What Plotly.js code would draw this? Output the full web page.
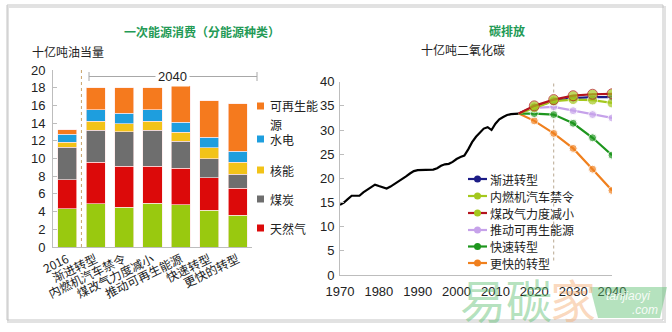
<!DOCTYPE html>
<html><head><meta charset="utf-8">
<script src="https://cdn.plot.ly/plotly-3.0.1.min.js"></script>
<style>html,body{margin:0;padding:0;background:#fff}#chart{width:672px;height:332px}</style>
</head><body><div id="chart"></div>
<script>
// ---------- Left chart data (billion toe) ----------
const categories = ['2016','渐进转型','内燃机汽车禁令','煤改气力度减小','推动可再生能源','快速转型','更快的转型'];
const oil      = [4.3, 4.9, 4.5, 4.95, 4.8, 4.15, 3.6];
const gas      = [3.3, 4.7, 4.6, 4.15, 4.1, 3.65, 3.05];
const coal     = [3.7, 3.6, 3.9, 4.1, 3.05, 2.2, 1.55];
const nuclear  = [0.55, 1.0, 0.9, 1.0, 1.0, 1.2, 1.35];
const hydro    = [0.9, 1.3, 1.2, 1.3, 1.15, 1.2, 1.25];
const renew    = [0.5, 2.5, 2.9, 2.5, 4.1, 4.15, 5.4];
const energyNames = ['石油','天然气','煤炭','核能','水电','可再生能源'];
const energyColors = ['#99c90f','#dc0a0a','#6e6e6e','#f2c318','#1e9ede','#f57a1e'];
const leftTicks = [0,2,4,6,8,10,12,14,16,18,20];
const bracketLabel = '2040';

// ---------- Right chart data (billion t CO2) ----------
const histYears = [1970,1971,1972,1973,1974,1975,1976,1977,1978,1979,1980,1981,1982,1983,1984,1985,1986,1987,1988,1989,1990,1991,1992,1993,1994,1995,1996,1997,1998,1999,2000,2001,2002,2003,2004,2005,2006,2007,2008,2009,2010,2011,2012,2013,2014,2015,2016];
const histCO2   = [14.5,15.0,15.7,16.4,16.4,16.4,17.1,17.6,18.1,18.7,18.4,18.1,17.9,18.3,18.8,19.4,19.8,20.4,21.0,21.5,21.7,21.7,21.7,21.7,21.8,22.1,22.6,22.9,23.0,23.4,24.0,24.4,24.7,26.0,27.5,28.6,29.4,30.3,30.6,30.0,31.3,32.2,32.7,33.1,33.3,33.3,33.4];
const scenYears = [2016,2020,2025,2030,2035,2040];
const scenNames = ['渐进转型','内燃机汽车禁令','煤改气力度减小','推动可再生能源','快速转型','更快的转型'];
const scenEvolving = [33.4,34.8,36.0,36.6,36.8,36.8];
const scenICEBan   = [33.4,34.6,36.0,36.3,36.2,35.6];
const scenLessGas  = [33.4,35.0,36.3,37.1,37.4,37.5];
const scenRenew    = [33.4,34.6,34.8,34.0,33.2,32.5];
const scenRapid    = [33.4,33.4,33.2,31.4,28.4,24.8];
const scenFaster   = [33.4,31.9,29.3,26.2,21.9,17.5];
const scenLineColors   = ['#1c1c86','#a4c81e','#b4141e','#c6a2ea','#1e961e','#f0801e'];
const scenMarkerColors = ['#1c1c86','#a4c81e','#a4c81e','#c6a2ea','#1e961e','#f0801e'];
const rightYTicks = [0,5,10,15,20,25,30,35,40];
const rightXTicks = [1970,1980,1990,2000,2010,2020,2030,2040];
const splitYear = 2025;

// ---------- helpers ----------
const W = 672, H = 332;
const px = x => x / W;
const py = y => 1 - y / H;
const CJK = '"Noto Sans CJK SC", "Noto Sans", sans-serif';
const NUM = '"Liberation Sans", Arial, sans-serif';

const traces = [];
const energyData = [oil, gas, coal, nuclear, hydro, renew];
energyData.forEach((vals, i) => {
  traces.push({
    type: 'bar', x: categories, y: vals, name: energyNames[i],
    xaxis: 'x', yaxis: 'y', showlegend: false,
    marker: {color: energyColors[i], line: {color: 'rgba(255,230,230,0.8)', width: 0.8}},
    hoverinfo: 'skip'
  });
});

traces.push({
  type: 'scatter', mode: 'lines', x: histYears, y: histCO2, xaxis: 'x2', yaxis: 'y2',
  line: {color: '#000', width: 2.2}, showlegend: false, hoverinfo: 'skip'
});
const scenData = [scenEvolving, scenICEBan, scenLessGas, scenRenew, scenRapid, scenFaster];
const drawOrder = [5, 4, 3, 0, 1, 2];
const mSize = [0, 8, 8, 8, 8, 8];
drawOrder.forEach(i => {
  const big = (i === 1 || i === 2);
  traces.push({
    type: 'scatter', mode: 'lines+markers', x: scenYears, y: scenData[i], name: scenNames[i],
    xaxis: 'x2', yaxis: 'y2', showlegend: false, hoverinfo: 'skip',
    line: {color: scenLineColors[i], width: 2.2},
    marker: {color: scenMarkerColors[i], size: mSize.map(s => s ? (big ? 10 : 8) : 0)}
  });
});

const shapes = [];
const annotations = [];

// frame
shapes.push({type: 'rect', xref: 'paper', yref: 'paper', x0: px(8), x1: px(665), y0: py(322), y1: py(7),
  line: {color: '#e2e2e2', width: 2}, layer: 'below'});
shapes.push({type: 'rect', xref: 'paper', yref: 'paper', x0: px(7), x1: px(663), y0: py(320), y1: py(5),
  line: {color: '#c4c4c4', width: 1}, layer: 'below'});

// left chart: dashed separator between 2016 and scenarios
shapes.push({type: 'line', xref: 'x', yref: 'y', x0: 0.5, x1: 0.5, y0: 0, y1: 20.3,
  line: {color: '#c9a46a', width: 1, dash: 'dot'}});
// bracket for 2040
const by = py(76.5);
shapes.push({type: 'line', xref: 'paper', yref: 'paper', x0: px(89), x1: px(257), y0: by, y1: by, line: {color: '#a8a8a8', width: 1}});
shapes.push({type: 'line', xref: 'paper', yref: 'paper', x0: px(89), x1: px(89), y0: py(72), y1: py(81), line: {color: '#a8a8a8', width: 1}});
shapes.push({type: 'line', xref: 'paper', yref: 'paper', x0: px(257), x1: px(257), y0: py(72), y1: py(81), line: {color: '#a8a8a8', width: 1}});
annotations.push({xref: 'paper', yref: 'paper', x: px(172), y: by, text: bracketLabel, showarrow: false,
  font: {family: NUM, size: 13, color: '#222'}, bgcolor: '#fff', borderpad: 2, xanchor: 'center', yanchor: 'middle'});

// right chart: dashed line at split year
shapes.push({type: 'line', xref: 'x2', yref: 'y2', x0: splitYear, x1: splitYear, y0: 3, y1: 42,
  line: {color: '#b8a890', width: 1, dash: 'dot'}, layer: 'below'});

// titles
annotations.push({xref: 'paper', yref: 'paper', x: px(202), y: py(31), text: '<b>一次能源消费（分能源种类）</b>', showarrow: false,
  font: {family: CJK, size: 12, color: '#239a55'}, xanchor: 'center', yanchor: 'middle'});
annotations.push({xref: 'paper', yref: 'paper', x: px(507), y: py(30), text: '<b>碳排放</b>', showarrow: false,
  font: {family: CJK, size: 12, color: '#239a55'}, xanchor: 'center', yanchor: 'middle'});
annotations.push({xref: 'paper', yref: 'paper', x: px(30), y: py(51), text: '十亿吨油当量', showarrow: false,
  font: {family: CJK, size: 12, color: '#222'}, xanchor: 'left', yanchor: 'middle'});
annotations.push({xref: 'paper', yref: 'paper', x: px(463), y: py(50), text: '十亿吨二氧化碳', showarrow: false,
  font: {family: CJK, size: 12, color: '#222'}, xanchor: 'center', yanchor: 'middle'});

// left legend (custom)
const leftLegend = [
  {label: '可再生能', idx: 5, y: 106},
  {label: '水电', idx: 4, y: 139},
  {label: '核能', idx: 3, y: 170},
  {label: '煤炭', idx: 2, y: 199},
  {label: '天然气', idx: 1, y: 228}
];
leftLegend.forEach(it => {
  shapes.push({type: 'rect', xref: 'paper', yref: 'paper', x0: px(257), x1: px(264), y0: py(it.y + 3.5), y1: py(it.y - 3.5),
    fillcolor: energyColors[it.idx], line: {width: 0}});
  annotations.push({xref: 'paper', yref: 'paper', x: px(268), y: py(it.y), text: it.label, showarrow: false,
    font: {family: CJK, size: 12, color: '#222'}, xanchor: 'left', yanchor: 'middle'});
});
annotations.push({xref: 'paper', yref: 'paper', x: px(268), y: py(124), text: '源', showarrow: false,
  font: {family: CJK, size: 12, color: '#222'}, xanchor: 'left', yanchor: 'middle'});

// right legend (custom)
const legY = [179, 196, 213, 230, 246.5, 263];
scenNames.forEach((nm, i) => {
  const yy = py(legY[i]);
  shapes.push({type: 'line', xref: 'paper', yref: 'paper', x0: px(468), x1: px(487), y0: yy, y1: yy,
    line: {color: scenLineColors[i], width: 2.2}});
  shapes.push({type: 'circle', xref: 'paper', yref: 'paper', xsizemode: 'pixel', ysizemode: 'pixel',
    xanchor: px(477.5), yanchor: yy, x0: -3.5, x1: 3.5, y0: -3.5, y1: 3.5,
    fillcolor: scenMarkerColors[i], line: {width: 0}});
  annotations.push({xref: 'paper', yref: 'paper', x: px(488), y: yy, text: nm, showarrow: false,
    font: {family: CJK, size: 12, color: '#222'}, xanchor: 'left', yanchor: 'middle'});
});

// watermark
annotations.push({xref: 'paper', yref: 'paper', x: px(458), y: py(298), text: '易碳', showarrow: false,
  font: {family: CJK, size: 46, color: 'rgba(90,190,110,0.45)'}, xanchor: 'left', yanchor: 'middle'});
annotations.push({xref: 'paper', yref: 'paper', x: px(548), y: py(298), text: '家', showarrow: false,
  font: {family: CJK, size: 46, color: 'rgba(245,170,110,0.45)'}, xanchor: 'left', yanchor: 'middle'});
shapes.push({type: 'path', xref: 'paper', yref: 'paper',
  path: `M ${px(598)} ${py(318)} L ${px(590)} ${py(287)} L ${px(667)} ${py(287)} L ${px(660)} ${py(318)} Z`,
  fillcolor: 'rgba(90,190,110,0.45)', line: {width: 0}});
annotations.push({xref: 'paper', yref: 'paper', x: px(628), y: py(296), text: '<i>tanjiaoyi</i>', showarrow: false,
  font: {family: NUM, size: 12, color: 'rgba(255,255,255,0.9)'}, xanchor: 'center', yanchor: 'middle'});
annotations.push({xref: 'paper', yref: 'paper', x: px(645), y: py(310), text: '<i>.com</i>', showarrow: false,
  font: {family: NUM, size: 12, color: 'rgba(255,255,255,0.9)'}, xanchor: 'center', yanchor: 'middle'});

const layout = {
  width: W, height: H,
  margin: {l: 0, r: 0, t: 0, b: 0},
  paper_bgcolor: '#fff', plot_bgcolor: 'rgba(0,0,0,0)',
  showlegend: false,
  barmode: 'stack', bargap: 0.33,
  font: {family: CJK, size: 12, color: '#222'},
  xaxis: {domain: [px(53), px(252)], anchor: 'y', type: 'category', range: [-0.5, 6.5],
    showline: true, linecolor: '#bdbdbd', linewidth: 1, ticks: '', showgrid: false, zeroline: false,
    tickangle: -26, tickfont: {family: CJK, size: 12, color: '#222'}, fixedrange: true},
  yaxis: {domain: [py(247), py(70)], anchor: 'x', range: [0, 20], tickvals: leftTicks,
    showline: true, linecolor: '#bdbdbd', linewidth: 1, ticks: 'inside', ticklen: 4, tickcolor: '#bdbdbd',
    showgrid: false, zeroline: false, tickfont: {family: NUM, size: 13, color: '#222'}, ticklabelstandoff: 4},
  xaxis2: {domain: [px(340), px(612)], anchor: 'y2', range: [1970, 2040], tickvals: rightXTicks,
    showline: true, linecolor: '#bdbdbd', linewidth: 1, ticks: '', showgrid: false, zeroline: false,
    tickfont: {family: NUM, size: 13, color: '#222'}, ticklabelstandoff: 4},
  yaxis2: {domain: [py(275), py(81.7)], anchor: 'x2', range: [0, 40], tickvals: rightYTicks,
    showline: true, linecolor: '#bdbdbd', linewidth: 1, ticks: 'inside', ticklen: 4, tickcolor: '#bdbdbd',
    showgrid: false, zeroline: false, tickfont: {family: NUM, size: 13, color: '#222'}, ticklabelstandoff: 2},
  shapes: shapes,
  annotations: annotations
};

Plotly.newPlot('chart', traces, layout, {displayModeBar: false, staticPlot: true});
</script>
</body></html>
